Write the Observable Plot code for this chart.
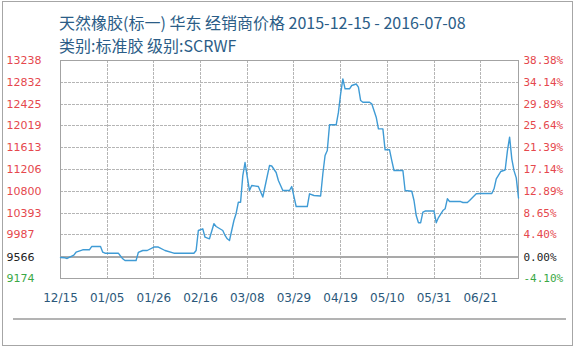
<!DOCTYPE html>
<html lang="zh-CN">
<head>
<meta charset="utf-8">
<script src="https://cdn.jsdelivr.net/npm/d3@7"></script>
<script src="https://cdn.jsdelivr.net/npm/@observablehq/plot@0.6"></script>
<style>
  body { margin: 0; background: #fff; }
  #wrap { position: relative; width: 578px; height: 349px; overflow: hidden; background: #fff; }
  #border { position: absolute; left: 2px; top: 1px; width: 569px; height: 343px; border: 1px solid #a6a6a6; }
  #title { position: relative; height: 56px; padding-left: 59px; padding-top: 11px; box-sizing: border-box;
           font-family: "Noto Sans CJK SC", sans-serif; font-size: 16px; line-height: 23px; color: #2b5d87; white-space: nowrap; }
  #chart { position: relative; }
  #chart svg { display: block; }
  #nav { position: absolute; left: 13px; top: 318px; width: 553px; height: 0; border-top: 2px solid #b3b3b3; }
</style>
</head>
<body>
<div id="wrap">
  <div id="border"></div>
  <div id="title">
    <div>天然橡胶(标一) 华东 经销商价格 2015-12-15 - 2016-07-08</div>
    <div>类别:标准胶 级别:SCRWF</div>
  </div>
  <div id="chart"></div>
  <div id="nav"></div>
</div>
<script>
// ---- data ----
const dates = [
  "2015-12-15","2015-12-17","2015-12-18","2015-12-21","2015-12-22","2015-12-25","2015-12-28","2015-12-29",
  "2016-01-02","2016-01-03","2016-01-04","2016-01-10","2016-01-12","2016-01-13","2016-01-18","2016-01-19",
  "2016-01-21","2016-01-23","2016-01-26","2016-01-28","2016-01-31","2016-02-04","2016-02-13","2016-02-14",
  "2016-02-15","2016-02-17","2016-02-18","2016-02-20","2016-02-22","2016-02-23","2016-02-26","2016-02-27",
  "2016-02-28","2016-02-29","2016-03-02","2016-03-03","2016-03-04","2016-03-05","2016-03-06","2016-03-07",
  "2016-03-09","2016-03-10","2016-03-13","2016-03-15","2016-03-16","2016-03-18","2016-03-19","2016-03-21",
  "2016-03-22","2016-03-24","2016-03-27","2016-03-28","2016-03-29","2016-03-30","2016-04-04","2016-04-05",
  "2016-04-07","2016-04-10","2016-04-11","2016-04-12","2016-04-13","2016-04-14","2016-04-17","2016-04-18",
  "2016-04-19","2016-04-20","2016-04-21","2016-04-23","2016-04-24","2016-04-26","2016-04-27","2016-04-28",
  "2016-04-29","2016-05-02","2016-05-03","2016-05-05","2016-05-06","2016-05-08","2016-05-09","2016-05-11",
  "2016-05-12","2016-05-13","2016-05-17","2016-05-18","2016-05-21","2016-05-22","2016-05-23","2016-05-24",
  "2016-05-25","2016-05-26","2016-05-27","2016-05-31","2016-06-01","2016-06-02","2016-06-04","2016-06-05",
  "2016-06-06","2016-06-07","2016-06-12","2016-06-13","2016-06-15","2016-06-16","2016-06-19","2016-06-21",
  "2016-06-26","2016-06-27","2016-06-28","2016-06-30","2016-07-02","2016-07-03","2016-07-04","2016-07-05",
  "2016-07-06","2016-07-07","2016-07-08"
];
const prices = [
  9566, 9560, 9547, 9610, 9664, 9709, 9709, 9770,
  9770, 9664, 9646, 9646, 9541, 9510, 9510, 9659,
  9696, 9696, 9761, 9761, 9696, 9646, 9646, 9696,
  10069, 10100, 9944, 9914, 10194, 10143, 10069, 9976,
  9914, 9882, 10255, 10386, 10596, 10596, 11094, 11336,
  10814, 10908, 10889, 10693, 10889, 11280, 11271, 11150,
  11001, 10814, 10814, 10889, 10702, 10516, 10516, 10753,
  10721, 10712, 11126, 11467, 11560, 12039, 12039, 12270,
  12617, 12896, 12710, 12710, 12772, 12800, 12740, 12492,
  12460, 12460, 12430, 12181, 11964, 11964, 11573, 11573,
  11373, 11187, 11187, 10814, 10801, 10628, 10348, 10214,
  10214, 10410, 10432, 10432, 10214, 10311, 10441, 10473,
  10660, 10609, 10609, 10591, 10591, 10628, 10753, 10758,
  10758, 10846, 11032, 11168, 11196, 11550, 11810, 11400,
  11180, 11050, 10675
];
const basePrice = 9566;
const leftTicks = [13238, 12832, 12425, 12019, 11613, 11206, 10800, 10393, 9987, 9566, 9174];
const rightLabels = ["38.38%", "34.14%", "29.89%", "25.64%", "21.39%", "17.14%", "12.89%", "8.65%", "4.40%", "0.00%", "-4.10%"];
const xTickLabels = ["2015-12-15","2016-01-05","2016-01-26","2016-02-16","2016-03-08","2016-03-29","2016-04-19","2016-05-10","2016-05-31","2016-06-21"];

// ---- build ----
const parse = d3.utcParse("%Y-%m-%d");
const table = dates.map((d, i) => ({date: parse(d), price: prices[i]}));
const xTicks = xTickLabels.map(parse);
const pct = new Map(leftTicks.map((v, i) => [v, rightLabels[i]]));
const upTicks = leftTicks.filter(v => v > basePrice);
const baseTicks = leftTicks.filter(v => v === basePrice);
const downTicks = leftTicks.filter(v => v < basePrice);

const RED = "#e5484d", BLACK = "#222222", GREEN = "#3aa845";
const leftAxis = (ticks, fill) => Plot.axisY(ticks, {
  anchor: "left", tickSize: 0, tickPadding: 0, dx: -54, textAnchor: "start",
  tickFormat: "d", fill, fontFamily: "DejaVu Sans", fontSize: 11, label: null
});
const rightAxis = (ticks, fill) => Plot.axisY(ticks, {
  anchor: "right", tickSize: 0, tickPadding: 0, dx: 5, textAnchor: "start",
  tickFormat: d => pct.get(d), fill, fontFamily: "DejaVu Sans Mono", fontSize: 11, label: null
});

const gridY = leftTicks.slice(1, -1).filter(v => v !== basePrice);
const gridX = xTicks.slice(1);

const chart = Plot.plot({
  width: 578,
  height: 254,
  marginTop: 4,
  marginLeft: 60,
  marginRight: 60,
  marginBottom: 32,
  style: {background: "transparent", fontFamily: "DejaVu Sans", overflow: "visible"},
  x: {type: "utc", domain: [table[0].date, table[table.length - 1].date], label: null},
  y: {domain: [leftTicks[leftTicks.length - 1], leftTicks[0]], label: null},
  marks: [
    Plot.ruleY(gridY, {y: d => d, stroke: "#b5b5b5", strokeWidth: 1, strokeDasharray: "3,1"}),
    Plot.ruleX(gridX, {x: d => d, stroke: "#b5b5b5", strokeWidth: 1, strokeDasharray: "3,1"}),
    Plot.ruleY([basePrice], {stroke: "#a9a9a9", strokeWidth: 2}),
    Plot.frame({stroke: "#a3a3a3"}),
    Plot.line(table, {x: "date", y: "price", stroke: "#3f9bd5", strokeWidth: 1.4}),
    leftAxis(upTicks, RED),
    leftAxis(baseTicks, BLACK),
    leftAxis(downTicks, GREEN),
    rightAxis(upTicks, RED),
    rightAxis(baseTicks, BLACK),
    rightAxis(downTicks, GREEN),
    Plot.axisX(xTicks, {
      anchor: "bottom", tickSize: 0, tickPadding: 15, tickFormat: d3.utcFormat("%m/%d"),
      fill: "#2b587a", fontFamily: "DejaVu Sans", fontSize: 12, label: null
    })
  ]
});
chart.querySelectorAll("line").forEach(l => l.setAttribute("shape-rendering", "crispEdges"));
document.getElementById("chart").append(chart);
</script>
</body>
</html>
